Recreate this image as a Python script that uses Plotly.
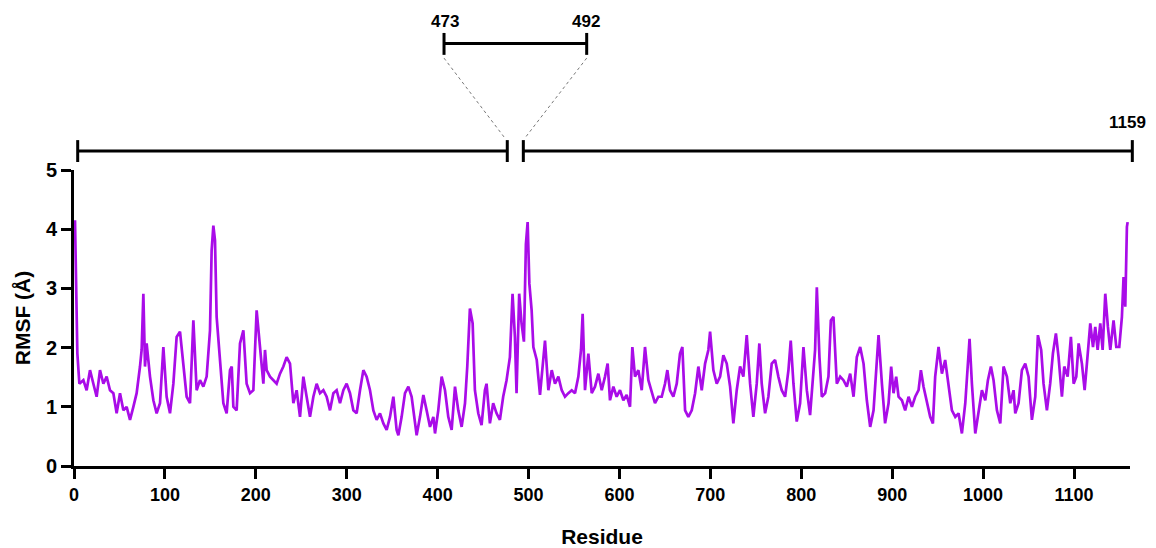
import plotly.graph_objects as go

# ---- data ----
residue = [
    1.1, 3.7, 5.9, 10.3, 13.9, 17.6, 21.3, 24.9, 28.6, 32.3, 35.9, 39.6, 43.3, 46.9, 50.6,
    54.3, 57.9, 61.6, 65.3, 68.9, 72.6, 74.4, 76.3, 78.1, 79.9, 83.6, 87.3, 90.9, 94.6, 98.3,
    101.9, 105.6, 109.3, 112.9, 116.6, 120.3, 123.9, 127.6, 129.4, 131.3, 134.9, 138.6, 142.3,
    145.9, 149.6, 151.4, 153.3, 155.1, 156.9, 160.6, 164.3, 167.9, 171.6, 173.5, 175.3, 178.9,
    182.6, 186.3, 189.9, 193.6, 197.3, 200.9, 204.6, 208.3, 210.1, 211.9, 215.6, 219.3, 222.9,
    226.6, 230.3, 233.9, 237.6, 241.3, 244.9, 248.6, 252.3, 255.9, 259.6, 263.3, 266.9, 270.6,
    274.3, 277.9, 281.6, 285.3, 288.9, 292.6, 296.3, 299.9, 303.6, 307.3, 310.9, 314.6, 318.3,
    321.9, 325.6, 329.3, 332.9,
    336.6, 340.3, 343.9, 347.6, 351.3, 354.9, 356.8, 360.4, 364.1, 367.8, 371.4, 375.1, 376.9,
    380.6, 384.3, 387.9, 391.6, 395.3, 397.1, 400.7, 404.4, 408.1, 411.7, 415.4, 419.1, 422.7,
    426.4, 430.1, 432.6, 435.5, 438.5, 441.0, 444.7, 448.3, 452.0, 453.8, 457.5, 461.1, 464.8,
    468.5, 472.1, 475.8, 479.5, 482.4, 485.0, 486.8, 489.7, 492.3, 494.9, 497.1, 499.0, 500.9,
    503.4, 505.3, 509.0, 512.6, 516.3, 518.1, 521.8, 525.5, 529.1, 532.8, 536.5, 540.1, 543.8,
    547.5, 551.1, 554.8, 557.7, 559.5, 562.1, 565.8, 569.5, 573.1, 576.8, 580.5, 584.1, 587.0,
    589.6, 593.3, 596.9, 600.6, 604.3, 607.9, 611.6, 614.2, 617.1, 620.8, 624.5, 628.1, 631.8,
    635.5, 639.1, 642.8, 646.5, 650.1, 652.7, 655.6, 659.3, 663.0, 666.6, 669.2, 672.2, 675.8,
    679.5, 683.2, 686.8, 690.5, 694.2, 697.8, 699.7, 703.3, 707.0, 710.7, 714.3, 718.0, 721.7,
    725.3, 729.0, 732.7, 736.3, 740.0, 743.7, 747.3, 751.0, 753.9, 756.5, 760.2, 763.8, 767.5,
    771.2, 774.8, 778.5, 782.2, 785.9, 788.4, 791.4, 795.0, 798.7, 802.4, 806.1, 809.7, 813.4,
    815.2, 817.1, 820.0, 822.6, 826.3, 829.9, 832.5, 835.4, 839.1, 842.8, 846.4, 850.1, 853.8,
    857.5, 861.1, 864.8, 868.5, 872.1, 875.8, 879.5, 883.2, 885.0, 888.7, 892.2, 896.0, 898.9,
    901.5, 904.4, 907.0, 910.7, 914.3, 918.0, 921.7, 925.3, 929.0, 931.6, 934.5, 938.2, 941.8,
    944.8, 947.3, 951.0, 954.7, 958.3, 962.0, 965.7, 969.4, 973.0, 976.7, 980.4, 985.1, 987.7,
    991.4, 995.1, 998.7, 1002.4, 1005.3, 1008.6, 1011.5, 1015.2, 1018.9, 1022.5, 1026.2,
    1029.9, 1033.5, 1035.4, 1039.0, 1042.7, 1046.4, 1050.0, 1053.7, 1057.4, 1060.3, 1063.9,
    1066.5, 1070.2, 1073.8, 1076.8, 1080.1, 1083.0, 1086.7, 1089.3, 1093.0, 1096.6, 1099.6,
    1102.5, 1105.1, 1108.7, 1111.7, 1114.2, 1117.9, 1120.9, 1123.4, 1126.0, 1128.9, 1131.5,
    1134.4, 1137.3, 1139.9, 1143.5, 1146.5, 1149.8, 1152.7, 1154.5, 1156.4, 1158.2, 1159.0,
]
rmsf = [
    4.15, 1.90, 1.39, 1.45, 1.28, 1.62, 1.39, 1.17, 1.62, 1.39, 1.51, 1.28, 1.23, 0.89, 1.23,
    0.94, 1.00, 0.78, 1.00, 1.23, 1.68, 1.96, 2.91, 1.68, 2.07, 1.51, 1.11, 0.89, 1.06, 2.01,
    1.17, 0.89, 1.39, 2.18, 2.27, 1.68, 1.17, 1.06, 1.73, 2.46, 1.28, 1.45, 1.34,
    1.51, 2.29, 3.64, 4.06, 3.81, 2.52, 1.73, 1.06, 0.89, 1.62, 1.68, 1.00, 0.94,
    2.07, 2.29, 1.39, 1.23, 1.28, 2.63, 1.96, 1.39, 1.96, 1.62, 1.51, 1.45, 1.39,
    1.56, 1.68, 1.84, 1.73, 1.06, 1.28, 0.83, 1.51, 1.17, 0.83, 1.17, 1.39, 1.23,
    1.28, 1.17, 0.94, 1.23, 1.28, 1.06, 1.28, 1.39, 1.23, 0.94, 0.89, 1.28, 1.62,
    1.51, 1.28, 0.94, 0.78,
    0.89, 0.72, 0.61, 0.83, 1.17, 0.61, 0.52, 0.83, 1.23, 1.34, 1.17, 0.66, 0.52,
    0.83, 1.20, 0.94, 0.66, 0.83, 0.55, 0.94, 1.51, 1.28, 0.83, 0.61, 1.34, 0.94,
    0.66, 1.06, 1.68, 2.66, 2.41, 1.28, 0.89, 0.69, 1.28, 1.39, 0.72, 1.06, 0.89,
    0.78, 1.17, 1.45, 1.84, 2.91, 2.18, 1.23, 2.91, 2.41, 2.10, 3.75, 4.12, 3.08,
    2.63, 2.01, 1.79, 1.20, 1.79, 2.12, 1.28, 1.62, 1.39, 1.51, 1.28, 1.17, 1.23,
    1.28, 1.23, 1.51, 1.96, 2.57, 1.28, 1.90, 1.23, 1.34, 1.56, 1.28, 1.51, 1.73,
    1.11, 1.34, 1.17, 1.28, 1.11, 1.20, 1.00, 2.01, 1.51, 1.62, 1.28, 2.01, 1.45,
    1.23, 1.06, 1.17, 1.17, 1.39, 1.62, 1.28, 1.17, 1.39, 1.90, 2.01, 0.94, 0.83,
    0.94, 1.23, 1.68, 1.28, 1.73, 1.96, 2.27, 1.62, 1.39, 1.51, 1.87, 1.73, 1.34,
    0.72, 1.28, 1.68, 1.51, 2.21, 1.39, 0.83, 1.39, 2.07, 1.39, 0.89, 1.17, 1.73,
    1.79, 1.51, 1.28, 1.17, 1.62, 2.12, 1.39, 0.75, 1.06, 2.01, 1.28, 0.86, 1.51,
    1.96, 3.02, 1.84, 1.17, 1.23, 1.51, 2.46, 2.52, 1.39, 1.51, 1.45, 1.34, 1.56,
    1.17, 1.84, 2.01, 1.73, 1.11, 0.66, 0.94, 1.84, 2.21, 1.39, 0.72, 1.06, 1.68,
    1.23, 1.51, 1.17, 1.11, 0.94, 1.17, 1.00, 1.17, 1.28, 1.62, 1.34, 1.06, 0.83,
    0.72, 1.51, 2.01, 1.56, 1.79, 1.39, 0.94, 0.83, 0.89, 0.55, 1.06, 2.15, 1.39,
    0.55, 0.89, 1.28, 1.11, 1.45, 1.68, 1.45, 0.94, 0.72, 1.68, 1.51,
    1.06, 1.28, 0.89, 1.06, 1.62, 1.73, 1.51, 0.78, 1.17, 2.21, 1.96,
    1.39, 0.94, 1.39, 1.90, 2.24, 1.84, 1.17, 1.68, 1.51, 2.18, 1.39,
    1.51, 2.07, 1.73, 1.28, 1.73, 2.41, 2.01, 2.35, 1.96, 2.41, 1.96,
    2.91, 2.35, 1.96, 2.46, 2.01, 2.01, 2.52, 3.19, 2.69, 4.04, 4.12,
]

x_ticks = [0, 100, 200, 300, 400, 500, 600, 700, 800, 900, 1000, 1100]
y_ticks = [0, 1, 2, 3, 4, 5]
domain_labels = ["473", "492", "1159"]

PURPLE = "#A90CE8"
FONT = "Liberation Sans, Arial, sans-serif"

fig = go.Figure()
fig.add_trace(go.Scatter(x=residue, y=rmsf, mode="lines",
                         line=dict(color=PURPLE, width=2.7), hoverinfo="skip"))

# ---- bracket decorations (layout, paper coordinates) ----
LW = 3
shapes = []
def seg(x0, y0, x1, y1, width=LW, dash=None, color="black"):
    shapes.append(dict(type="line", xref="paper", yref="paper", x0=x0, y0=y0, x1=x1, y1=y1,
                       line=dict(color=color, width=width, dash=dash), layer="above"))

yb, yb_lo, yb_hi = 1.064, 1.027, 1.101
L0, L1, R0, R1 = 0.0035, 0.4103, 0.4255, 1.0022
seg(L0, yb, L1, yb)
seg(L0, yb_lo, L0, yb_hi)
seg(L1, yb_lo, L1, yb_hi)
seg(R0, yb, R1, yb)
seg(R0, yb_lo, R0, yb_hi)
seg(R1, yb_lo, R1, yb_hi)
ys, ys_lo, ys_hi = 1.427, 1.389, 1.463
S0, S1 = 0.3504, 0.4855
seg(S0, ys, S1, ys)
seg(S0, ys_lo, S0, ys_hi)
seg(S1, ys_lo, S1, ys_hi)
seg(S0, 1.378, 0.408, 1.108, width=1, dash="dot", color="#777777")
seg(S1, 1.378, 0.427, 1.108, width=1, dash="dot", color="#777777")

annotations = [
    dict(x=0.3513, y=1.501, text="<b>%s</b>" % domain_labels[0]),
    dict(x=0.4848, y=1.501, text="<b>%s</b>" % domain_labels[1]),
    dict(x=0.9975, y=1.162, text="<b>%s</b>" % domain_labels[2]),
]
for a in annotations:
    a.update(xref="paper", yref="paper", showarrow=False, xanchor="center", yanchor="middle",
             font=dict(family=FONT, size=17, color="black"))

fig.update_layout(
    width=1148, height=540,
    margin=dict(l=66, r=26, t=162, b=82, autoexpand=False),
    paper_bgcolor="white", plot_bgcolor="white",
    showlegend=False,
    shapes=shapes, annotations=annotations,
    font=dict(family=FONT, color="black"),
    xaxis=dict(
        range=[0, 1161.6], tickvals=x_ticks, ticktext=[str(v) for v in x_ticks],
        showline=True, linecolor="black", linewidth=LW, mirror=False,
        ticks="outside", ticklen=10, tickwidth=LW, tickcolor="black",
        showgrid=False, zeroline=False,
        tickfont=dict(family=FONT, size=18, color="black", weight="bold"),
        title=dict(text="<b>Residue</b>", font=dict(family=FONT, size=21, color="black"),
                   standoff=26),
    ),
    yaxis=dict(
        range=[0, 5], tickvals=y_ticks,
        showline=True, linecolor="black", linewidth=LW, mirror=False,
        ticks="outside", ticklen=10, tickwidth=LW, tickcolor="black",
        showgrid=False, zeroline=False,
        tickfont=dict(family=FONT, size=20, color="black", weight="bold"),
        title=dict(text="<b>RMSF (Å)</b>", font=dict(family=FONT, size=21, color="black"),
                   standoff=10),
    ),
)

fig.write_html("out.html")
